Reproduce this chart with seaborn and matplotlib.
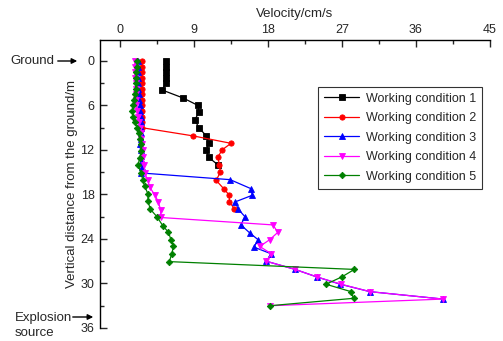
import matplotlib
matplotlib.use("Agg")
import matplotlib.pyplot as plt
import seaborn as sns
import numpy as np
from matplotlib.ticker import MultipleLocator

# ---------------- data (velocity cm/s, depth m) ----------------
wc1_depth = [0, 0.75, 1.5, 2.25, 3.0, 3.9, 5.0, 6.0, 6.9, 7.95, 9.0, 10.1, 11.1, 12.0, 13.0, 14.0]
wc1_vel = [5.6, 5.6, 5.6, 5.6, 5.6, 5.1, 7.7, 9.5, 9.6, 9.1, 9.6, 10.5, 10.8, 10.5, 10.8, 11.9]

wc2_depth = [0, 0.75, 1.5, 2.25, 3.0, 3.75, 4.5, 5.25, 6.0, 6.75, 7.5, 8.25, 9.0,
             10.1, 11.1, 12.0, 13.0, 14.0, 15.0, 16.1, 17.2, 18.1, 19.0, 19.9]
wc2_vel = [2.7, 2.7, 2.7, 2.7, 2.7, 2.7, 2.7, 2.7, 2.7, 2.7, 2.7, 2.7, 2.7,
           8.9, 13.5, 12.4, 11.9, 12.1, 12.2, 11.7, 12.6, 13.3, 13.3, 13.9]

wc3_depth = [0, 0.75, 1.5, 2.25, 3.0, 3.75, 4.5, 5.25, 6.0, 6.75, 7.5, 8.25, 9.0, 9.75,
             10.5, 11.25, 12.0, 12.75, 13.5, 14.25, 15.1,
             16.0, 17.2, 18.1, 19.0, 20.0, 21.0, 22.1, 23.2, 24.1, 25.1, 26.0, 27.0,
             28.1, 29.1, 30.1, 31.1, 32.1]
wc3_vel = [2.2, 2.2, 2.2, 2.2, 2.2, 2.2, 2.3, 2.3, 2.4, 2.4, 2.5, 2.5, 2.6, 2.6,
           2.5, 2.4, 2.5, 2.6, 2.7, 2.7, 2.6,
           13.4, 15.9, 16.1, 14.0, 14.4, 15.2, 14.7, 15.8, 16.8, 16.3, 18.4, 17.8,
           21.3, 23.9, 26.8, 30.4, 39.3]

wc4_depth = [0, 0.75, 1.5, 2.25, 3.0, 3.75, 4.5, 5.25, 6.0, 6.75, 7.5, 8.25, 9.0, 9.75,
             10.5, 11.25, 12.0, 13.0, 14.0, 15.1, 16.1, 17.0, 18.1, 19.0, 20.1, 21.1,
             22.1, 23.1, 24.1, 25.0, 26.0, 27.0, 28.1, 29.1, 30.1, 31.1, 32.1, 33.0]
wc4_vel = [1.8, 1.8, 1.8, 1.8, 1.9, 1.9, 1.9, 2.0, 2.0, 2.1, 2.2, 2.3, 2.4, 2.5,
           2.6, 2.7, 2.8, 2.8, 2.95, 3.0, 3.4, 3.6, 4.26, 4.66, 4.95, 4.95,
           18.6, 19.2, 18.2, 17.0, 18.4, 17.8, 21.3, 23.9, 26.9, 30.4, 39.3, 18.2]

wc5_depth = [0, 0.75, 1.5, 2.25, 3.0, 3.75, 4.5, 5.25, 6.0, 6.75, 7.5, 8.25, 9.0, 9.75,
             10.5, 11.25, 12.2, 13.1, 14.0, 15.1, 16.1, 16.9, 17.9, 18.9, 20.0, 21.0,
             22.2, 23.1, 24.1, 25.0, 26.0, 27.05, 28.1, 29.1, 30.1, 31.1, 32.0, 33.0]
wc5_vel = [2.1, 2.1, 2.0, 2.0, 1.9, 1.9, 1.8, 1.7, 1.6, 1.5, 1.6, 1.8, 2.1, 2.3,
           2.4, 2.5, 2.55, 2.4, 2.2, 2.55, 2.8, 3.0, 3.4, 3.4, 3.7, 4.5,
           5.2, 5.9, 6.2, 6.5, 6.3, 6.0, 28.5, 27.0, 25.05, 28.1, 28.4, 18.2]

labels = ["Working condition 1", "Working condition 2", "Working condition 3",
          "Working condition 4", "Working condition 5"]
x_ticks = [0, 9, 18, 27, 36, 45]
y_ticks = [0, 6, 12, 18, 24, 30, 36]

series = [(wc1_vel, wc1_depth, "#000000", "s"),
          (wc2_vel, wc2_depth, "#FF0000", "o"),
          (wc3_vel, wc3_depth, "#0000FF", "^"),
          (wc4_vel, wc4_depth, "#FF00FF", "v"),
          (wc5_vel, wc5_depth, "#008000", "D")]

# ---------------- plot ----------------
sns.set_style("white")
plt.rcParams["font.family"] = ["Liberation Sans", "DejaVu Sans"]
plt.rcParams["font.size"] = 9

fig = plt.figure(figsize=(5.03, 3.41), dpi=100)
ax = fig.add_axes([100 / 503, 1 - 328 / 341, 390 / 503, 288 / 341])

for (v, d, c, m), lab in zip(series, labels):
    sns.lineplot(x=v, y=d, sort=False, estimator=None, color=c, marker=m,
                 markersize=3.8 if m != "D" else 3.3, markeredgewidth=0.6,
                 markeredgecolor=c, linewidth=0.9, label=lab, ax=ax)

ax.set_xlim(-2.43, 45)
ax.set_ylim(36, -2.83)
ax.xaxis.tick_top()
ax.xaxis.set_label_position("top")
ax.set_xticks(x_ticks)
ax.set_yticks(y_ticks)
ax.xaxis.set_minor_locator(MultipleLocator(4.5))
ax.yaxis.set_minor_locator(MultipleLocator(3))
ax.tick_params(axis="x", which="major", direction="in", length=5, width=1,
               top=True, bottom=False, labeltop=True, labelbottom=False, labelsize=9, pad=3)
ax.tick_params(axis="x", which="minor", direction="in", length=3, width=1,
               top=True, bottom=False)
ax.tick_params(axis="y", which="major", direction="in", length=5, width=1,
               left=True, labelsize=9, pad=4)
ax.tick_params(axis="y", which="minor", direction="in", length=3, width=1, left=True)
for s in ["right", "bottom"]:
    ax.spines[s].set_visible(False)
for s in ["top", "left"]:
    ax.spines[s].set_visible(True)
    ax.spines[s].set_color("black")
    ax.spines[s].set_linewidth(1)
ax.spines["left"].set_bounds(36, -2.83)

ax.set_xlabel("Velocity/cm/s", fontsize=9.5, labelpad=5)
ax.set_ylabel("Vertical distance from the ground/m", fontsize=9.5, labelpad=2)

leg = ax.legend(loc="upper left", bbox_to_anchor=(0.543, 0.86), frameon=True,
                fancybox=False, edgecolor="black", fontsize=9, handlelength=2.8,
                borderpad=0.5, labelspacing=0.6, handletextpad=0.5)
leg.get_frame().set_linewidth(0.8)

# annotations
fig.text(10 / 503, 1 - 61 / 341, "Ground", fontsize=9.5, va="center", ha="left")
fig.add_artist(matplotlib.patches.FancyArrowPatch(
    (55 / 503, 1 - 61 / 341), (80 / 503, 1 - 61 / 341), transform=fig.transFigure,
    arrowstyle="-|>", mutation_scale=8, color="black", linewidth=1))
fig.text(15 / 503, 1 - 318 / 341, "Explosion", fontsize=9.5, va="center", ha="left")
fig.text(15 / 503, 1 - 333 / 341, "source", fontsize=9.5, va="center", ha="left")
fig.add_artist(matplotlib.patches.FancyArrowPatch(
    (70 / 503, 1 - 317 / 341), (96 / 503, 1 - 317 / 341), transform=fig.transFigure,
    arrowstyle="-|>", mutation_scale=8, color="black", linewidth=1))

fig.savefig("out.png", dpi=100)
